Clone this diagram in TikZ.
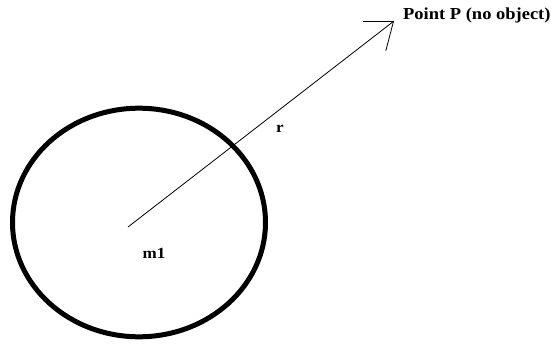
\documentclass[tikz,border=0pt]{standalone}
\usepackage{fontspec}
\usepackage{graphicx}
\setmainfont{Liberation Serif}
\usetikzlibrary{arrows.meta}
\tikzset{
  lbl/.style={inner sep=0pt, font=\bfseries\fontsize{15.5}{17}\selectfont},
  body/.style={draw=black, line width=5pt},
  vec/.style={draw=black, line width=0.8pt, -{Straight Barb[length=24pt,width=37pt,line width=0.8pt]}}
}
\begin{document}
\begin{tikzpicture}[x=1pt,y=1pt]
  \useasboundingbox[fill=white] (0,0) rectangle (553,343);
  \draw[body] (139,120.5) ellipse [x radius=126.5, y radius=114.3];
  \coordinate (c) at (128,116);
  \coordinate (P) at (394,322);
  \draw[vec] (c) -- (P);
  \node[lbl, anchor=base west] (pt) at (403,323) {\scalebox{1.1}[1]{\fontsize{16.8}{18}\selectfont Point P (no object)}};
  \node[lbl, anchor=base] (r) at (280,210) {\scalebox{1.1}[1]{r}};
  \node[lbl, anchor=base] (m) at (154,85) {\scalebox{1.1}[1]{m1}};
\end{tikzpicture}
\end{document}
